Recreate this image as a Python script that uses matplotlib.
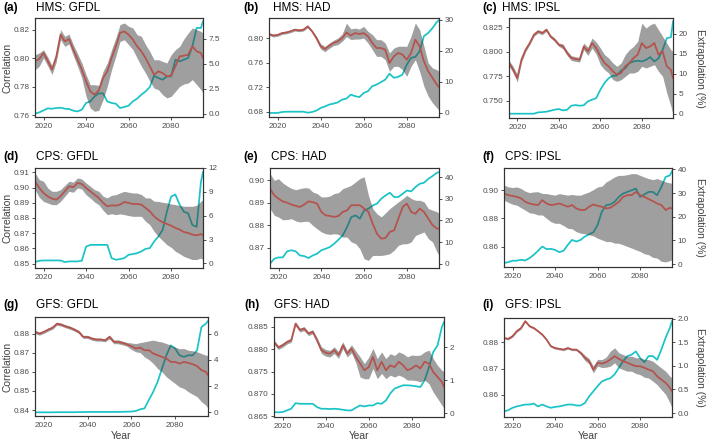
import matplotlib
matplotlib.use("Agg")
import matplotlib.pyplot as plt
from matplotlib.ticker import FormatStrFormatter

plt.rcParams["font.family"] = ["Liberation Sans", "DejaVu Sans"]

# ---- data ----
YEARS = list(range(2016, 2095, 2)) + [2095]

# HMS: GFDL
HMS_GFDL_CORR = [.7977, .7994, .8036, .798, .792, .801, .8165, .8118, .8134, .806,
                 .799, .792, .7837, .7766, .7743, .7773, .786, .7907, .800, .8083,
                 .8177, .8188, .8165, .813, .8083, .8048, .800, .7942, .7883, .7907,
                 .7895, .7872, .7876, .7942, .8012, .8017, .8024, .8083, .8048, .8036, .800]
HMS_GFDL_UP = [.0047, .0042, .0023, .0028, .0028, .0028, .0035, .0035, .0035, .0035,
               .0042, .0047, .0047, .0047, .007, .0035, .0047, .0059, .0059, .0059,
               .0059, .0059, .0059, .0082, .0082, .0105, .0094, .0105, .0105, .0082,
               .0082, .0094, .0147, .0117, .007, .0117, .0152, .0129, .0152, .0152, .0176]
HMS_GFDL_DN = [.0059, .0051, .0035, .0035, .0035, .0035, .0035, .0035, .0035, .0042,
               .0047, .0059, .0105, .0117, .0117, .014, .0152, .0105, .0082, .007,
               .0059, .0059, .007, .007, .0082, .0105, .0105, .0105, .0094, .0129,
               .0152, .0152, .0145, .0176, .0211, .0199, .0199, .0234, .0234, .0257, .0246]
HMS_GFDL_EXT = [0.0, .13, .33, .53, .5, .57, .6, .5, .47, .3,
                .23, .4, 1.07, 1.23, 1.73, 2.03, 2.03, 1.23, 1.07, 1.0,
                .57, .67, .8, 1.23, 1.5, 1.9, 2.23, 2.67, 3.8, 3.57,
                3.4, 3.73, 3.73, 5.4, 5.23, 5.4, 5.57, 6.73, 8.57, 8.57, 9.23]

# HMS: HAD
HMS_HAD_CORR = [.8065, .804, .805, .808, .809, .811, .8136, .8125, .8136, .819,
                .811, .80, .7864, .782, .7875, .792, .7946, .80, .809, .804,
                .808, .8065, .808, .8027, .792, .7837, .7837, .781, .7593, .770,
                .7756, .773, .7647, .7756, .7973, .7864, .762, .7457, .7349, .724, .720]
HMS_HAD_UP = [.0022, .0022, .0022, .0022, .0022, .0022, .0022, .0022, .0022, .0022,
              .0022, .0033, .0043, .0043, .0043, .0043, .0054, .0065, .0152, .0109,
              .0081, .0081, .0109, .0081, .0136, .0136, .0136, .0109, .0163, .0136,
              .0109, .0136, .0217, .0272, .0272, .0272, .0244, .0136, .0163, .0244, .0255]
HMS_HAD_DN = [.0022, .0022, .0022, .0022, .0022, .0022, .0022, .0022, .0022, .0022,
              .0022, .0033, .0043, .0043, .0043, .0043, .0054, .0054, .0065, .0065,
              .0098, .0081, .0081, .0109, .0109, .0136, .0136, .0163, .0136, .0163,
              .0217, .0244, .0272, .0217, .0326, .0407, .0407, .0407, .0407, .038, .0369]
HMS_HAD_EXT = [0, 0, 0, .3, .4, .4, .4, .4, .4, .1,
               .3, .75, 1.6, 2.1, 2.7, 3.0, 3.4, 4.3, 4.6, 5.9,
               5.4, 5.1, 6.4, 7.0, 8.6, 9.1, 9.9, 10.7, 12.6, 11.3,
               11.6, 12.3, 15.5, 17.7, 18.0, 19.8, 24.7, 25.7, 27.3, 29.2, 29.8]

# HMS: IPSL
HMS_IPSL_CORR = [.7884, .7816, .7731, .7918, .8019, .8087, .8172, .8206, .8189, .8223,
                 .8155, .812, .807, .8053, .7985, .7935, .7924, .7918, .8053, .8002,
                 .8087, .8036, .7952, .7884, .785, .780, .7765, .7782, .785, .7884,
                 .7935, .7969, .8087, .8036, .8053, .8087, .7969, .8002, .785, .7816, .7731]
HMS_IPSL_UP = [.0027, .0034, .0034, .0027, .002, .0017, .0017, .0017, .0017, .0017,
               .0017, .0017, .0017, .0024, .0024, .0024, .0024, .0024, .0034, .0041,
               .0051, .0061, .0085, .0085, .0085, .0085, .0085, .0102, .0119, .0136,
               .0119, .0136, .0203, .0203, .022, .0203, .0254, .0153, .0237, .0203, .0271]
HMS_IPSL_DN = [.0027, .0034, .0041, .0027, .002, .0017, .0017, .0017, .0017, .0017,
               .0017, .0017, .0017, .0024, .0024, .0024, .0024, .0024, .0034, .0041,
               .0051, .0061, .0085, .0068, .0068, .0085, .0068, .0068, .0102, .0102,
               .0153, .017, .0237, .0203, .0203, .022, .017, .0254, .0271, .0373, .0373]
HMS_IPSL_EXT = [0, 0, 0, 0, 0, 0, 0, .33, .4, .5,
                .75, 1.0, 1.17, .83, 1.0, 2.0, 2.17, 2.0, 2.1, 3.1,
                3.5, 3.9, 6.0, 7.7, 8.9, 9.5, 9.6, 10.8, 11.4, 12.7,
                13.1, 13.3, 13.1, 13.5, 14.2, 13.1, 13.9, 16.0, 18.9, 19.2, 23.1]

# CPS: GFDL
CPS_GFDL_CORR = [.9041, .8997, .8964, .8942, .8927, .892, .8942, .8975, .9008, .9002,
                 .903, .9023, .8997, .8975, .8953, .8931, .8899, .8877, .8883, .8881,
                 .8888, .8905, .8899, .8892, .8892, .8888, .8866, .8844, .8811, .8789,
                 .8772, .8761, .875, .8735, .8724, .8708, .8702, .8691, .8686, .8695, .8686]
CPS_GFDL_UP = [.0055, .0055, .0077, .0055, .0048, .0055, .0044, .0039, .0033, .0033,
               .0033, .0033, .0033, .0033, .0033, .0044, .0044, .0055, .0066, .0072,
               .0077, .007, .007, .0072, .0072, .0066, .0066, .0088, .0099, .012,
               .0131, .0138, .0142, .0153, .0158, .0169, .0175, .0186, .0197, .0215, .0234]
CPS_GFDL_DN = [.0055, .0061, .0055, .0044, .0039, .0033, .0033, .0033, .0033, .0033,
               .0033, .0033, .0044, .0044, .0048, .0044, .0048, .0055, .0055, .0059,
               .0061, .0083, .0083, .0081, .0081, .0077, .0088, .0088, .0099, .011,
               .012, .0136, .0142, .0153, .0158, .016, .0164, .0164, .0158, .0158, .016]
CPS_GFDL_EXT = [.17, .33, .37, .37, .37, .37, .37, .17, .25, .25,
                .25, .33, 2.1, 2.33, 2.33, 2.33, 2.33, 2.33, .67, .46,
                .54, .67, 1.08, 1.17, 1.29, 1.5, 1.83, 1.92, 2.75, 3.38,
                4.2, 6.5, 8.4, 8.67, 7.4, 6.5, 6.3, 4.83, 4.6, 10.2, 11.5]

# CPS: HAD
CPS_HAD_CORR = [.8963, .8933, .8918, .8906, .890, .8892, .8886, .8881, .8892, .8906,
                .8903, .8896, .8859, .8844, .8841, .8837, .8841, .8859, .8866, .8889,
                .8889, .8889, .8874, .8859, .8807, .8762, .874, .8743, .877, .8777,
                .8829, .8881, .8896, .8859, .8851, .8874, .8859, .8829, .880, .8785, .8785]
CPS_HAD_UP = [.0067, .0067, .0089, .0082, .0075, .0072, .0072, .0082, .0075, .006,
              .0045, .0045, .0067, .0082, .0089, .0104, .0104, .0104, .0104, .0089,
              .0104, .0119, .0142, .0075, .0067, .0089, .0097, .0112, .0104, .0112,
              .0075, .0037, .0037, .006, .006, .0037, .0045, .0045, .0067, .0075, .0067]
CPS_HAD_DN = [.0089, .0089, .0082, .0082, .0075, .0063, .0067, .0067, .0075, .0089,
              .0104, .0112, .0089, .0082, .0082, .0075, .0082, .0112, .0119, .0164,
              .0171, .0194, .0224, .0216, .0142, .0097, .0075, .0075, .0097, .0089,
              .0119, .0164, .0179, .0134, .0097, .0112, .0089, .0089, .0075, .0104, .0119]
CPS_HAD_EXT = [0, 2.3, 2.9, 2.9, 5.7, 6.2, 5.7, 3.8, 3.5, 2.6,
               3.8, 4.6, 6.2, 6.9, 7.7, 9.2, 11.1, 13.1, 16.9, 21.5,
               22.3, 20.8, 24.6, 25.4, 26.9, 27.7, 30, 31.5, 32.8, 30.8,
               30.8, 32.3, 33.8, 33.4, 35.4, 36.9, 37.4, 39.2, 40.5, 42, 42.3]

# CPS: IPSL
CPS_IPSL_CORR = [.8977, .8965, .896, .8953, .8942, .8918, .8906, .8899, .8895, .893,
                 .8906, .8895, .8899, .8906, .8895, .8883, .8895, .8871, .886, .886,
                 .8883, .8899, .889, .8883, .8871, .8876, .8895, .8918, .8953, .8965,
                 .8965, .8988, .8965, .8953, .8937, .8923, .8906, .8895, .886, .8876, .8871]
CPS_IPSL_UP = [.0059, .0059, .0059, .007, .007, .0075, .0077, .0089, .0094, .0047,
               .007, .0075, .0066, .007, .0075, .0082, .0075, .0094, .0105, .0117,
               .0105, .0105, .0133, .0145, .0187, .0199, .0199, .0187, .0152, .0145,
               .0152, .0129, .014, .014, .0145, .0152, .0176, .0176, .0199, .0176, .0176]
CPS_IPSL_DN = [.0047, .0051, .0059, .0059, .0066, .0059, .0066, .0063, .007, .0105,
               .0105, .0117, .0133, .014, .0145, .0152, .0168, .0164, .0164, .0168,
               .0199, .0222, .0229, .0234, .0234, .0239, .0269, .0293, .0339, .0363,
               .0374, .041, .0398, .0402, .0393, .0398, .0386, .0398, .0367, .0374, .0363]
CPS_IPSL_EXT = [.4, .8, 1.4, 1.4, 1.8, 1.5, 2.5, 3.9, 5.6, 7.4,
                6.3, 6.4, 6.0, 5.0, 5.6, 8.1, 10.2, 9.5, 10.2, 11.6,
                12.6, 13.4, 16.5, 22.1, 24.9, 25.2, 26.3, 28.4, 29.8, 30.5,
                31.2, 31.9, 28.4, 29.4, 30.5, 30.5, 29.1, 32.6, 36.8, 37.5, 39.2]

# GFS: GFDL
GFS_GFDL_CORR = [.8809, .88, .8809, .8821, .8831, .8852, .8847, .8838, .8831, .8821,
                 .8809, .8783, .8783, .8774, .8769, .8769, .8765, .8783, .8757, .8757,
                 .8751, .8744, .8734, .8722, .8727, .8713, .8713, .8696, .8687, .8678,
                 .867, .8652, .8652, .8643, .8652, .8647, .864, .863, .8609, .86, .8583]
GFS_GFDL_UP = [.0008, .0008, .0008, .0008, .0008, .0008, .0008, .0008, .0008, .0008,
               .0008, .0008, .0008, .0008, .0008, .0008, .0008, .001, .001, .001,
               .001, .001, .0017, .0026, .0026, .0044, .0049, .007, .0073, .0078,
               .0078, .0087, .0078, .0078, .007, .0066, .007, .0075, .0087, .0087, .0104]
GFS_GFDL_DN = [.0008, .0008, .0008, .0008, .0008, .0008, .0008, .0008, .0008, .0008,
               .0008, .0008, .0008, .0008, .0008, .0008, .0008, .001, .001, .001,
               .001, .001, .0017, .0017, .0026, .0035, .0049, .0052, .007, .0078,
               .0096, .0096, .0113, .0122, .0139, .0151, .0157, .016, .0165, .0174, .0174]
GFS_GFDL_EXT = [0, 0, 0, 0, 0, .01, .01, .01, .01, .01,
                .02, .02, .03, .03, .03, .03, .03, .03, .03, .03,
                .04, .05, .06, .1, .23, .3, .94, 1.57, 2.33, 3.34,
                4.35, 5.11, 4.86, 4.35, 4.23, 4.35, 4.35, 4.73, 6.5, 6.76, 6.96]

# GFS: HAD
GFS_HAD_CORR = [.8816, .8804, .8809, .8816, .882, .8857, .8843, .8846, .8835, .8839,
                .882, .8798, .8792, .879, .8798, .8787, .8809, .879, .8801, .8783,
                .8768, .8753, .876, .8783, .8753, .8772, .8753, .8764, .876, .8772,
                .8764, .8753, .8757, .8764, .8757, .8772, .8768, .8749, .8738, .8727, .8716]
GFS_HAD_UP = [.00045, .00045, .00045, .00045, .00045, .00045, .00045, .00045, .00045, .00045,
              .0006, .00075, .00075, .00075, .00075, .00075, .00075, .00075, .0009, .0013,
              .0015, .0015, .0022, .0019, .0026, .0022, .0026, .0026, .0026, .0022,
              .0026, .003, .003, .0022, .003, .0022, .003, .003, .0026, .0026, .0034]
GFS_HAD_DN = [.00045, .00045, .00045, .00045, .00045, .00045, .00045, .00045, .00045, .00045,
              .0006, .00075, .00075, .00075, .00075, .00075, .00075, .00075, .0009, .0013,
              .003, .0019, .0026, .0026, .0019, .0026, .0019, .0022, .0022, .003,
              .0026, .0022, .0026, .0034, .003, .0041, .0045, .0045, .0048, .0052, .0048]
GFS_HAD_EXT = [.03, .02, .03, .08, .13, .3, .28, .28, .28, .28,
               .18, .13, .13, .12, .13, .12, .1, .08, .08, .16,
               .23, .2, .23, .23, .3, .28, .38, .59, .74, .79,
               .84, .84, .83, .81, .79, .99, 1.39, 1.85, 2.05, 2.6, 2.76]

# GFS: IPSL
GFS_IPSL_CORR = [.8816, .8813, .8823, .8842, .8854, .888, .8861, .8854, .8842, .8829,
                 .881, .8785, .8778, .8775, .8772, .8778, .8772, .8772, .876, .8741,
                 .8728, .8696, .8722, .8719, .8724, .8734, .8747, .8737, .8728, .8722,
                 .8715, .8709, .8709, .8703, .8696, .869, .8671, .8658, .8646, .8627, .8614]
GFS_IPSL_UP = [.0004, .0004, .0004, .0004, .0004, .0004, .0004, .0004, .0004, .0004,
               .0004, .0004, .0004, .0004, .0004, .0004, .0004, .0004, .0006, .001,
               .001, .0013, .0013, .0015, .0019, .0032, .0032, .0023, .0025, .0025,
               .0032, .0032, .0032, .0032, .0038, .0038, .0044, .0044, .0044, .0044, .0051]
GFS_IPSL_DN = [.0004, .0004, .0004, .0004, .0004, .0004, .0004, .0004, .0004, .0004,
               .0004, .0004, .0004, .0004, .0004, .0004, .0004, .0004, .0006, .001,
               .001, .0013, .0013, .0015, .0019, .0025, .0025, .0034, .0032, .0032,
               .0025, .0028, .0032, .0036, .0032, .0038, .0032, .0038, .0044, .0057, .0064]
GFS_IPSL_EXT = [.035, .06, .11, .14, .16, .18, .18, .2, .14, .18,
                .14, .11, .13, .14, .16, .18, .18, .16, .16, .21,
                .35, .46, .57, .67, .71, .74, .82, .96, 1.1, 1.21,
                1.24, 1.31, 1.17, 1.08, 1.21, 1.21, 1.13, 1.35, 1.6, 1.81, 1.95]

RED = "#B5524C"
CYAN = "#19C3C6"
RIBBON = "#404040"
TXT = "#4D4D4D"

W, H = 709, 442
fig = plt.figure(figsize=(W / 100, H / 100), dpi=100)

# (tag, title, corr, up, dn, ext, box px [x0,y0,x1,y1], left ylim, left ticks, fmt,
#  right ylim, right ticks, rfmt, tag x, title x, label y)
PANELS = [
    ("(a)", "HMS: GFDL", HMS_GFDL_CORR, HMS_GFDL_UP, HMS_GFDL_DN, HMS_GFDL_EXT,
     (35, 18, 203, 117), (.7586, .8282), [.76, .78, .80, .82], "%.2f",
     (-0.33, 9.57), [0, 2.5, 5, 7.5], "%.1f", 3, 36, 8),
    ("(b)", "HMS: HAD", HMS_HAD_CORR, HMS_HAD_UP, HMS_HAD_DN, HMS_HAD_EXT,
     (269, 18, 439, 117), (.6713, .8326), [.68, .72, .76, .80], "%.2f",
     (-1.3, 30.5), [0, 10, 20, 30], "%d", 243, 273, 8),
    ("(c)", "HMS: IPSL", HMS_IPSL_CORR, HMS_IPSL_UP, HMS_IPSL_DN, HMS_IPSL_EXT,
     (509, 18, 673, 118), (.7324, .8342), [.750, .775, .800, .825], "%.3f",
     (-1.08, 24), [0, 5, 10, 15, 20], "%d", 482, 502, 8),
    ("(d)", "CPS: GFDL", CPS_GFDL_CORR, CPS_GFDL_UP, CPS_GFDL_DN, CPS_GFDL_EXT,
     (35, 168, 203, 268), (.8472, .9128), [.85, .86, .87, .88, .89, .90, .91], "%.2f",
     (-0.58, 11.92), [0, 3, 6, 9, 12], "%d", 3, 36, 157),
    ("(e)", "CPS: HAD", CPS_HAD_CORR, CPS_HAD_UP, CPS_HAD_DN, CPS_HAD_EXT,
     (270, 168, 439, 268), (.8609, .9055), [.87, .88, .89, .90], "%.2f",
     (-2, 44.2), [0, 10, 20, 30, 40], "%d", 243, 271, 157),
    ("(f)", "CPS: IPSL", CPS_IPSL_CORR, CPS_IPSL_UP, CPS_IPSL_DN, CPS_IPSL_EXT,
     (504, 168, 672, 267), (.8457, .9157), [.86, .88, .90], "%.2f",
     (-1.26, 40.6), [0, 10, 20, 30, 40], "%d", 482, 505, 157),
    ("(g)", "GFS: GFDL", GFS_GFDL_CORR, GFS_GFDL_UP, GFS_GFDL_DN, GFS_GFDL_EXT,
     (35, 317, 208, 416), (.8369, .8887), [.84, .85, .86, .87, .88], "%.2f",
     (-0.28, 7.27), [0, 2, 4, 6], "%d", 3, 36, 305),
    ("(h)", "GFS: HAD", GFS_HAD_CORR, GFS_HAD_UP, GFS_HAD_DN, GFS_HAD_EXT,
     (274, 317, 444, 417), (.86485, .8872), [.865, .870, .875, .880, .885], "%.3f",
     (-0.12, 2.91), [0, 1, 2], "%d", 244, 274, 305),
    ("(i)", "GFS: IPSL", GFS_IPSL_CORR, GFS_IPSL_UP, GFS_IPSL_DN, GFS_IPSL_EXT,
     (504, 318, 672, 417), (.8516, .8892), [.86, .87, .88], "%.2f",
     (-0.085, 2.02), [0, .5, 1, 1.5, 2], "%.1f", 482, 505, 305),
]

for i, (tag, title, corr, up, dn, ext, box, ylim, yt, yfmt,
        rlim, rt, rfmt, tag_x, title_x, lab_y) in enumerate(PANELS):
    x0, y0, x1, y1 = box
    ax = fig.add_axes([x0 / W, 1 - y1 / H, (x1 - x0) / W, (y1 - y0) / H])
    ax2 = ax.twinx()
    # primary (ribbon + correlation) drawn above the extrapolation line
    ax.set_zorder(ax2.get_zorder() + 1)
    ax.patch.set_visible(False)

    ax2.plot(YEARS, ext, color=CYAN, lw=1.25, solid_joinstyle="round")
    lo = [c - d for c, d in zip(corr, dn)]
    hi = [c + u for c, u in zip(corr, up)]
    ax.fill_between(YEARS, lo, hi, color=RIBBON, alpha=0.5, lw=0)
    ax.plot(YEARS, corr, color=RED, lw=1.25, solid_joinstyle="round")

    ax.set_xlim(2016, 2095)
    ax.set_ylim(*ylim)
    ax.set_yticks(yt)
    ax.yaxis.set_major_formatter(FormatStrFormatter(yfmt))
    ax.set_xticks([2020, 2040, 2060, 2080])
    ax2.set_ylim(*rlim)
    ax2.set_yticks(rt)
    ax2.yaxis.set_major_formatter(FormatStrFormatter(rfmt))

    for a in (ax, ax2):
        for s in a.spines.values():
            s.set_color("#333333")
            s.set_linewidth(0.8)
        a.tick_params(direction="out", length=2.5, width=0.6, color="#333333",
                      labelcolor=TXT, labelsize=5.9, pad=1.5)

    fig.text(tag_x / W, 1 - lab_y / H, tag, fontsize=8.5, fontweight="bold",
             va="center", ha="left", color="black")
    fig.text(title_x / W, 1 - lab_y / H, title, fontsize=8.5,
             va="center", ha="left", color="black")

    yc = 1 - (y0 + y1) / 2 / H
    if i % 3 == 0:
        fig.text(8 / W, yc, "Correlation", rotation=90, fontsize=7.4,
                 va="center", ha="center", color="#404040")
    if i % 3 == 2:
        fig.text(700 / W, yc, "Extrapolation (%)", rotation=270, fontsize=7.4,
                 va="center", ha="center", color="#404040")
    if i >= 6:
        fig.text((x0 + x1) / 2 / W, 1 - 436 / H, "Year", fontsize=7.4,
                 va="center", ha="center", color="#404040")

fig.savefig("out.png", dpi=100, facecolor="white")
